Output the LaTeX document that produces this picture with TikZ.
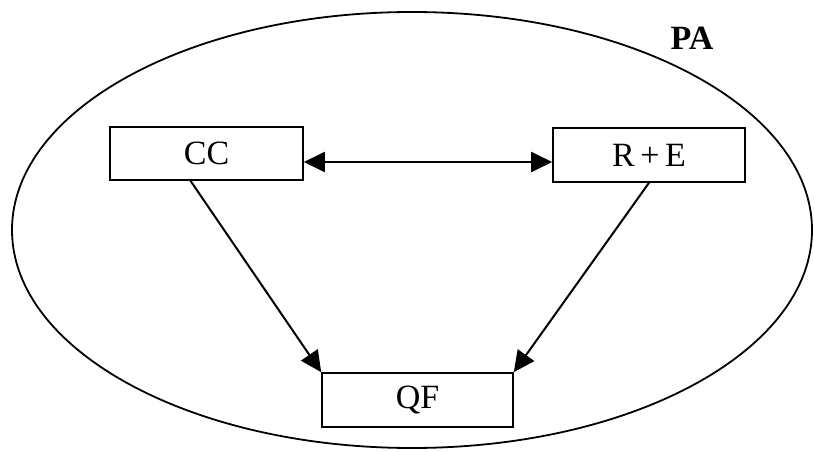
\documentclass[tikz,border=0pt]{standalone}
\usepackage{fontspec}
\setmainfont{Liberation Serif}
\usepackage{tikz}
\usetikzlibrary{arrows.meta}

\begin{document}
\begin{tikzpicture}[x=1pt, y=1pt,
  box/.style={draw, line width=1.6pt, inner sep=0pt, fill=white},
  link/.style={line width=2pt, -{Triangle[length=21pt, width=20pt]}}
  ]

  \fontsize{34}{40}\selectfont

  \useasboundingbox (0, 0) rectangle (814, -452);

  % outer area
  \draw[line width=1.8pt] (412, -230) ellipse [x radius=400, y radius=218];
  \node[font=\bfseries] (pa) at (692, -38) {PA};

  % boxes
  \node[box, minimum width=193pt, minimum height=53pt] (cc) at (206.5, -153.5) {CC};
  \node[box, minimum width=192pt, minimum height=54pt] (re) at (649, -155) {R\,+\,E};
  \node[box, minimum width=191pt, minimum height=54pt] (qf) at (417.5, -400) {QF};

  \draw[link, {Triangle[length=21pt, width=20pt]}-{Triangle[length=21pt, width=20pt]}]
    ([yshift=-8.5pt]cc.east) -- ([yshift=-7pt]re.west); % CC<->R+E

  \draw[link] ([xshift=-16pt]cc.south) -- (qf.north west); % CC->QF
  \draw[link] (re.south) -- (qf.north east); % R+E->QF

\end{tikzpicture}
\end{document}
